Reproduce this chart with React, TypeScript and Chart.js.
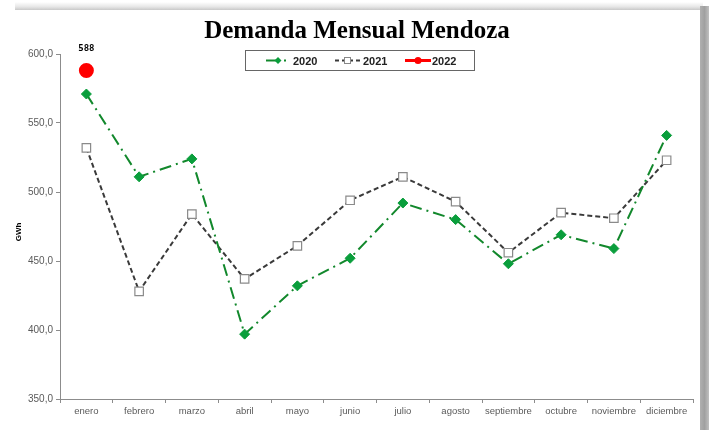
import React, { useEffect, useRef } from "react";
import { Chart, registerables } from "chart.js";

Chart.register(...registerables);

const months = ["enero", "febrero", "marzo", "abril", "mayo", "junio", "julio", "agosto", "septiembre", "octubre", "noviembre", "diciembre"];
const values2020 = [571, 511, 524, 397, 432, 452, 492, 480, 448, 469, 459, 541];
const values2021 = [532, 428, 484, 437, 461, 494, 511, 493, 456, 485, 481, 523];
const values2022 = [588, null, null, null, null, null, null, null, null, null, null, null];
const yTicks = [350, 400, 450, 500, 550, 600];
const seriesNames = ["2020", "2021", "2022"];
const titleText = "Demanda Mensual Mendoza";
const yAxisTitle = "GWh";

const GREEN_LINE = "#12882c";
const GREEN_PT = "#0a9e3c";
const DARK = "#3a3a3a";
const RED = "#ff0000";
const AXIS = "#8c8c8c";
const TXT = "#5a5a5a";

const overlay = {
  id: "overlay",
  afterDraw(chart: any) {
    const ctx = chart.ctx as CanvasRenderingContext2D;
    const x = chart.scales.x;
    ctx.save();
    // title
    ctx.fillStyle = "#000";
    ctx.font = "bold 25px 'Liberation Serif', serif";
    ctx.textAlign = "center";
    ctx.textBaseline = "alphabetic";
    ctx.fillText(titleText, 357, 38);

    // y axis title
    ctx.save();
    ctx.translate(19, 232);
    ctx.rotate(-Math.PI / 2);
    ctx.font = "bold 8px 'Liberation Sans', sans-serif";
    ctx.fillStyle = "#000";
    ctx.textAlign = "center";
    ctx.textBaseline = "middle";
    ctx.fillText(yAxisTitle, 0, 0);
    ctx.restore();

    // data label for 2022
    const v = values2022[0] as number;
    ctx.font = "bold 9px 'DejaVu Sans Mono', monospace";
    ctx.fillStyle = "#000";
    ctx.textAlign = "center";
    ctx.textBaseline = "middle";
    ctx.fillText(String(v), x.getPixelForValue(0), 49);

    // legend box
    ctx.strokeStyle = "#666";
    ctx.lineWidth = 1;
    ctx.strokeRect(245.5, 50.5, 229, 20);
    const ly = 60.5;
    ctx.font = "bold 11px 'Liberation Sans', sans-serif";
    ctx.textAlign = "left";
    ctx.fillStyle = "#222";
    // 2020
    ctx.strokeStyle = GREEN_LINE;
    ctx.lineWidth = 2;
    ctx.beginPath(); ctx.moveTo(266, ly); ctx.lineTo(280, ly); ctx.stroke();
    ctx.beginPath(); ctx.moveTo(284, ly); ctx.lineTo(286, ly); ctx.stroke();
    ctx.fillStyle = GREEN_PT;
    ctx.beginPath(); ctx.moveTo(278, ly - 3.5); ctx.lineTo(281.5, ly); ctx.lineTo(278, ly + 3.5); ctx.lineTo(274.5, ly); ctx.closePath(); ctx.fill();
    ctx.fillStyle = "#222";
    ctx.fillText(seriesNames[0], 293, ly + 1);
    // 2021
    ctx.strokeStyle = DARK;
    ctx.setLineDash([4, 3]);
    ctx.beginPath(); ctx.moveTo(335, ly); ctx.lineTo(360, ly); ctx.stroke();
    ctx.setLineDash([]);
    ctx.fillStyle = "#fff";
    ctx.fillRect(344, ly - 3.5, 7, 7);
    ctx.strokeStyle = "#888";
    ctx.lineWidth = 1;
    ctx.strokeRect(344.5, ly - 3, 6, 6);
    ctx.fillStyle = "#222";
    ctx.fillText(seriesNames[1], 363, ly + 1);
    // 2022
    ctx.strokeStyle = RED;
    ctx.lineWidth = 3;
    ctx.beginPath(); ctx.moveTo(405, ly); ctx.lineTo(431, ly); ctx.stroke();
    ctx.fillStyle = RED;
    ctx.beginPath(); ctx.arc(418, ly, 3.5, 0, Math.PI * 2); ctx.fill();
    ctx.fillStyle = "#222";
    ctx.fillText(seriesNames[2], 432, ly + 1);
    ctx.restore();
  },
};

export default function App() {
  const ref = useRef<HTMLCanvasElement | null>(null);
  useEffect(() => {
    if (!ref.current) return;
    const chart = new Chart(ref.current, {
      type: "line",
      data: {
        labels: months,
        datasets: [
          {
            label: seriesNames[0],
            data: values2020,
            borderColor: GREEN_LINE,
            borderWidth: 2,
            borderDash: [12, 5, 2, 5],
            pointStyle: "rectRot",
            pointRadius: 5,
            pointBackgroundColor: GREEN_PT,
            pointBorderColor: GREEN_PT,
            pointBorderWidth: 1,
            tension: 0,
          },
          {
            label: seriesNames[1],
            data: values2021,
            borderColor: DARK,
            borderWidth: 2,
            borderDash: [5, 3],
            pointStyle: "rect",
            pointRadius: 6,
            pointBackgroundColor: "#ffffff",
            pointBorderColor: "#8a8a8a",
            pointBorderWidth: 1.2,
            tension: 0,
          },
          {
            label: seriesNames[2],
            data: values2022,
            borderColor: RED,
            borderWidth: 3,
            pointStyle: "circle",
            pointRadius: 6,
            pointBackgroundColor: RED,
            pointBorderColor: RED,
            spanGaps: false,
          },
        ],
      },
      options: {
        responsive: false,
        animation: false,
        devicePixelRatio: 1,
        layout: { padding: { top: 54, right: 16, left: 0, bottom: 0 } },
        plugins: { legend: { display: false }, title: { display: false }, tooltip: { enabled: false } },
        scales: {
          x: {
            offset: true,
            grid: { display: true, drawOnChartArea: false, drawTicks: true, tickLength: 4, color: AXIS, offset: true },
            border: { display: true, color: AXIS, width: 1 },
            ticks: { color: TXT, font: { family: "'Liberation Sans', Arial, sans-serif", size: 9.5 }, padding: 3, maxRotation: 0, autoSkip: false },
            afterFit(s: any) { s.height = 31; },
          },
          y: {
            min: 350,
            max: 600,
            afterBuildTicks(s: any) { s.ticks = yTicks.map((v) => ({ value: v })); },
            grid: { display: true, drawOnChartArea: false, drawTicks: true, tickLength: 4, color: AXIS },
            border: { display: true, color: AXIS, width: 1 },
            ticks: {
              color: TXT,
              font: { family: "'Liberation Sans', Arial, sans-serif", size: 10 },
              padding: 3,
              callback: (v: any) => Number(v).toFixed(1).replace(".", ","),
            },
            afterFit(s: any) { s.width = 60; },
          },
        },
      },
      plugins: [overlay],
    });
    return () => chart.destroy();
  }, []);

  return (
    <div style={{ position: "fixed", left: 0, top: 0, width: 709, height: 430, background: "#fff", overflow: "hidden" }}>
      <div style={{ position: "absolute", left: 15, top: 2, width: 688, height: 8, background: "linear-gradient(to bottom, #ffffff, #e6e6e6 60%, #c8c8c8)" }} />
      <div style={{ position: "absolute", left: 700, top: 6, width: 9, height: 424, background: "linear-gradient(to right, #b0b0b0, #a0a0a0 50%, #c0c0c0)" }} />
      <canvas ref={ref} width={709} height={430} style={{ position: "absolute", left: 0, top: 0, width: 709, height: 430 }} />
    </div>
  );
}
